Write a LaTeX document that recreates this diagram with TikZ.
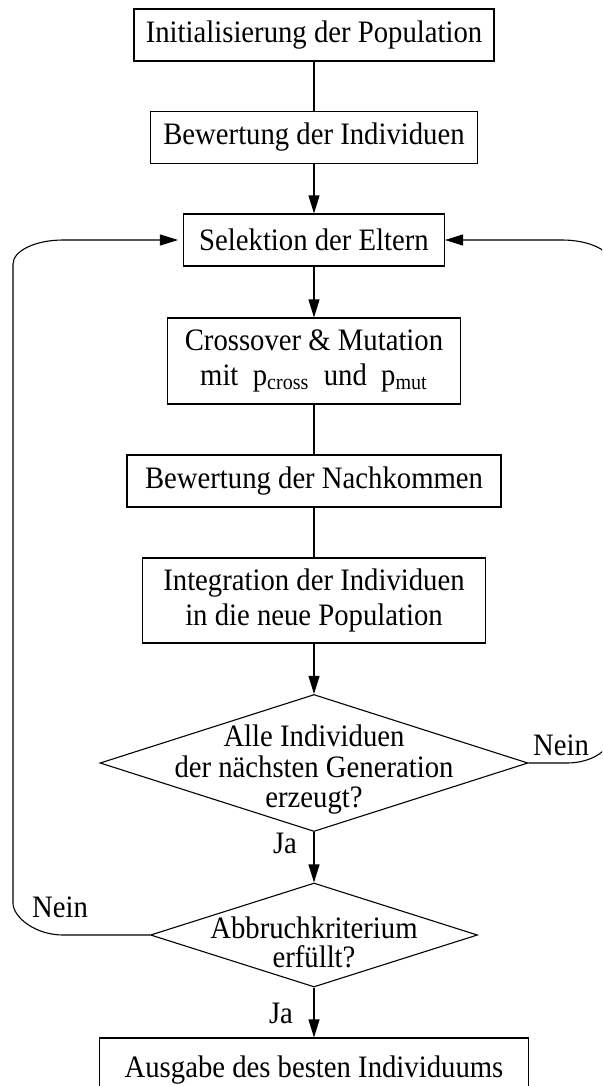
\documentclass[tikz,border=0pt]{standalone}
\usepackage{fontspec}
\setmainfont{Liberation Serif}[FakeStretch=0.92]
\usepackage{tikz}
\usetikzlibrary{shapes.geometric, arrows.meta}

\begin{document}
\begin{tikzpicture}[x=0.5pt, y=-0.5pt, line width=0.55pt,
  every node/.style={font=\fontsize{15.6}{17.5}\selectfont},
  procbox/.style={draw, rectangle, inner sep=0pt, align=center, minimum height=26pt},
  decision/.style={draw, diamond, inner sep=0pt},
  arr/.style={-{Triangle[length=9pt, width=5.5pt]}}]
% Frame of the figure (the right loop runs off the edge)
\useasboundingbox (0,0) rectangle (602,1086);
\clip (0,0) rectangle (602,1086);
% Process steps along the main column
\node[procbox, minimum width=180pt] (init) at (314,35) {Initialisierung der Population};
\node[procbox, minimum width=163.5pt] (ind) at (314,137.5) {Bewertung der Individuen};
\node[procbox, minimum width=130.5pt] (sel) at (314,240) {Selektion der Eltern};
\node[procbox, minimum width=146.5pt, minimum height=43pt, yshift=-1.5pt] (cross) at (314,358) {Crossover \& Mutation\\ mit\ \ p\textsubscript{cross}\ \ und\ \ p\textsubscript{mut}};
\node[procbox, minimum width=187pt] (off) at (314,481) {Bewertung der Nachkommen};
\node[procbox, minimum width=171.5pt, minimum height=42.5pt] (integ) at (314,600.5) {Integration der Individuen\\ in die neue Population};
% Decisions: outline and text
\node[decision, minimum width=214pt, minimum height=68.5pt] (gen) at (314,763) {};
\node[align=center, font=\fontsize{15.6}{15.25}\selectfont, yshift=-3.5pt] (gentext) at (gen) {Alle Individuen\\ der nächsten Generation\\ erzeugt?};
\node[decision, minimum width=163.5pt, minimum height=52pt] (crit) at (314,935) {};
\node[align=center, font=\fontsize{15.6}{14.35}\selectfont, yshift=-3.75pt] (crittext) at (crit) {Abbruchkriterium\\ erfüllt?};
\node[procbox, minimum width=214.5pt, minimum height=32pt] (out) at (314,1070) {Ausgabe des besten Individuums};
% Plain links and arrows down the column
\foreach \a/\b in {init/ind, cross/off, off/integ}
  \draw (\a) -- (\b);
\foreach \a/\b in {ind/sel, sel/cross, integ/gen, gen/crit, crit/out}
  \draw[arr] (\a) -- (\b);
% Branch labels
\node (ja1) at (285,843) {Ja};
\node (ja2) at (281,1013) {Ja};
\node (nein1) at (561,745) {Nein};
\node (nein2) at (60,907) {Nein};
% Loop back to the selection (right)
\draw[arr] (gen.east) -- (567,763) .. controls (592,763) and (612,749.6) .. (612,733)
  -- (612,265) .. controls (612,250.6) and (589.6,240) .. (562,240) -- (sel.east);
% Loop back to the selection (left)
\draw[arr, shorten >=2.5pt] (crit.west) -- (63,935) .. controls (35.4,935) and (13,917.3) .. (13,903)
  -- (13,264) .. controls (13,250.8) and (35.4,240) .. (63,240) -- (sel.west);
\end{tikzpicture}
\end{document}
